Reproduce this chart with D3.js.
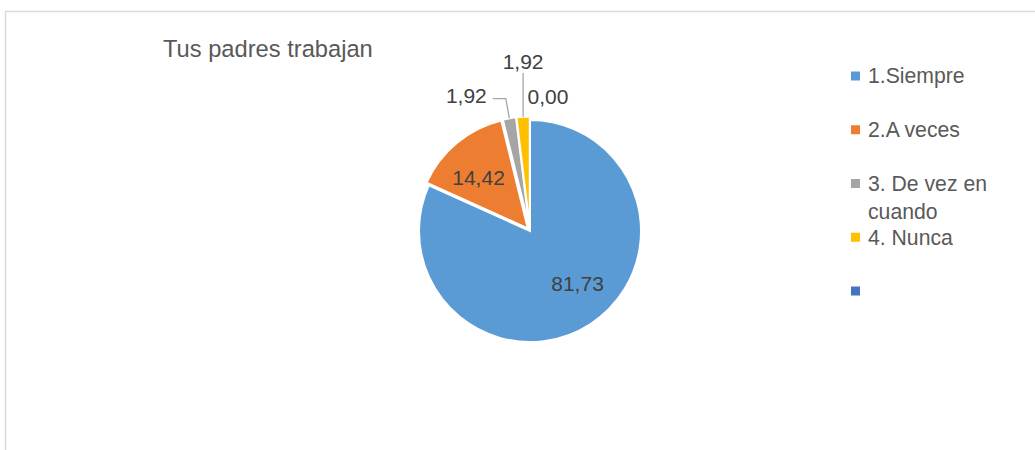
<!DOCTYPE html>
<html>
<head>
<meta charset="utf-8">
<script src="https://cdn.jsdelivr.net/npm/d3@7"></script>
<style>
  body { margin: 0; background: #fff; }
  text { font-family: 'Liberation Sans', Arial, sans-serif; }
</style>
</head>
<body>
<svg id="chart"></svg>
<script>
// chart data
const title = 'Tus padres trabajan';
const categories = ['1.Siempre', '2.A veces', '3. De vez en cuando', '4. Nunca', ''];
const legendLines = [['1.Siempre'], ['2.A veces'], ['3. De vez en', 'cuando'], ['4. Nunca'], ['']];
const values = [81.73, 14.42, 1.92, 1.92, 0.00];
const valueLabels = ['81,73', '14,42', '1,92', '1,92', '0,00'];
const colors = ['#5b9bd5', '#ed7d31', '#a5a5a5', '#ffc000', '#4472c4'];

const width = 1035;
const height = 450;
const cx = 530;
const cy = 231;
const radius = 111;
const explode = [0, 3.5, 3.5, 3.5, 0];

const svg = d3.select('#chart')
  .attr('width', width)
  .attr('height', height);

// chart area border (only top and left show)
svg.append('path')
  .attr('d', `M5.5,${height} L5.5,11.5 L${width},11.5`)
  .attr('fill', 'none')
  .attr('stroke', '#d9d9d9')
  .attr('stroke-width', 1.5);

svg.append('text')
  .attr('x', 163)
  .attr('y', 57)
  .attr('font-size', 23.7)
  .attr('fill', '#595959')
  .text(title);

const pie = d3.pie().sort(null).value(d => d);
const arcs = pie(values);
const arc = d3.arc().innerRadius(0).outerRadius(radius);

const midAngle = d => (d.startAngle + d.endAngle) / 2;
const polar = (a, r) => [Math.sin(a) * r, -Math.cos(a) * r];
const shift = (d, i) => polar(midAngle(d), explode[i]);

const g = svg.append('g').attr('transform', `translate(${cx},${cy})`);

g.selectAll('path.slice')
  .data(arcs)
  .enter()
  .append('path')
  .attr('class', 'slice')
  .attr('d', arc)
  .attr('transform', (d, i) => `translate(${shift(d, i)})`)
  .attr('fill', (d, i) => colors[i])
  .attr('stroke', '#fff')
  .attr('stroke-width', 2)
  .attr('stroke-linejoin', 'miter');

// outer edge point of a slice, after explode
const edge = (i, r) => {
  const s = shift(arcs[i], i);
  const p = polar(midAngle(arcs[i]), r);
  return [p[0] + s[0], p[1] + s[1]];
};

// inside labels for the two large slices
const insideArc = d3.arc().innerRadius(radius * 0.64).outerRadius(radius * 0.64);
const insideNudge = [[9, -7], [-6, 1]];
[0, 1].forEach(i => {
  const c = insideArc.centroid(arcs[i]);
  g.append('text')
    .attr('x', c[0] + insideNudge[i][0])
    .attr('y', c[1] + insideNudge[i][1])
    .attr('dy', '0.35em')
    .attr('text-anchor', 'middle')
    .attr('font-size', 21)
    .attr('fill', '#404040')
    .text(valueLabels[i]);
});

const leader = '#a6a6a6';

// gray slice: elbow leader, label on the left
{
  const p0 = edge(2, radius);
  const p1 = edge(2, radius + 20);
  const p2 = [p1[0] - 13, p1[1]];
  g.append('polyline')
    .attr('points', [p0, p1, p2].map(p => p.join(',')).join(' '))
    .attr('fill', 'none')
    .attr('stroke', leader)
    .attr('stroke-width', 1.3);
  g.append('text')
    .attr('x', p2[0] - 6)
    .attr('y', p2[1] - 3)
    .attr('dy', '0.35em')
    .attr('text-anchor', 'end')
    .attr('font-size', 21)
    .attr('fill', '#404040')
    .text(valueLabels[2]);
}

// yellow slice: vertical leader, label above
{
  const p0 = edge(3, radius);
  const p1 = [p0[0], -158];
  g.append('line')
    .attr('x1', p0[0]).attr('y1', p0[1])
    .attr('x2', p1[0]).attr('y2', p1[1])
    .attr('stroke', leader)
    .attr('stroke-width', 1.3);
  g.append('text')
    .attr('x', p1[0])
    .attr('y', p1[1] - 11)
    .attr('dy', '0.35em')
    .attr('text-anchor', 'middle')
    .attr('font-size', 21)
    .attr('fill', '#404040')
    .text(valueLabels[3]);
}

// zero slice: label only
{
  const p = edge(4, radius + 23);
  g.append('text')
    .attr('x', p[0] + 18)
    .attr('y', p[1])
    .attr('dy', '0.35em')
    .attr('text-anchor', 'middle')
    .attr('font-size', 21)
    .attr('fill', '#404040')
    .text(valueLabels[4]);
}

// legend
const legendY = d3.scalePoint()
  .domain(categories.map((c, i) => i))
  .range([76, 291]);

const legend = svg.append('g');
categories.forEach((c, i) => {
  const y = legendY(i);
  legend.append('rect')
    .attr('x', 851)
    .attr('y', y - 4.5)
    .attr('width', 9)
    .attr('height', 9)
    .attr('fill', colors[i]);
  legendLines[i].forEach((line, j) => {
    legend.append('text')
      .attr('x', 868)
      .attr('y', y + j * 28)
      .attr('dy', '0.35em')
      .attr('font-size', 21.2)
      .attr('fill', '#595959')
      .text(line);
  });
});
</script>
</body>
</html>
